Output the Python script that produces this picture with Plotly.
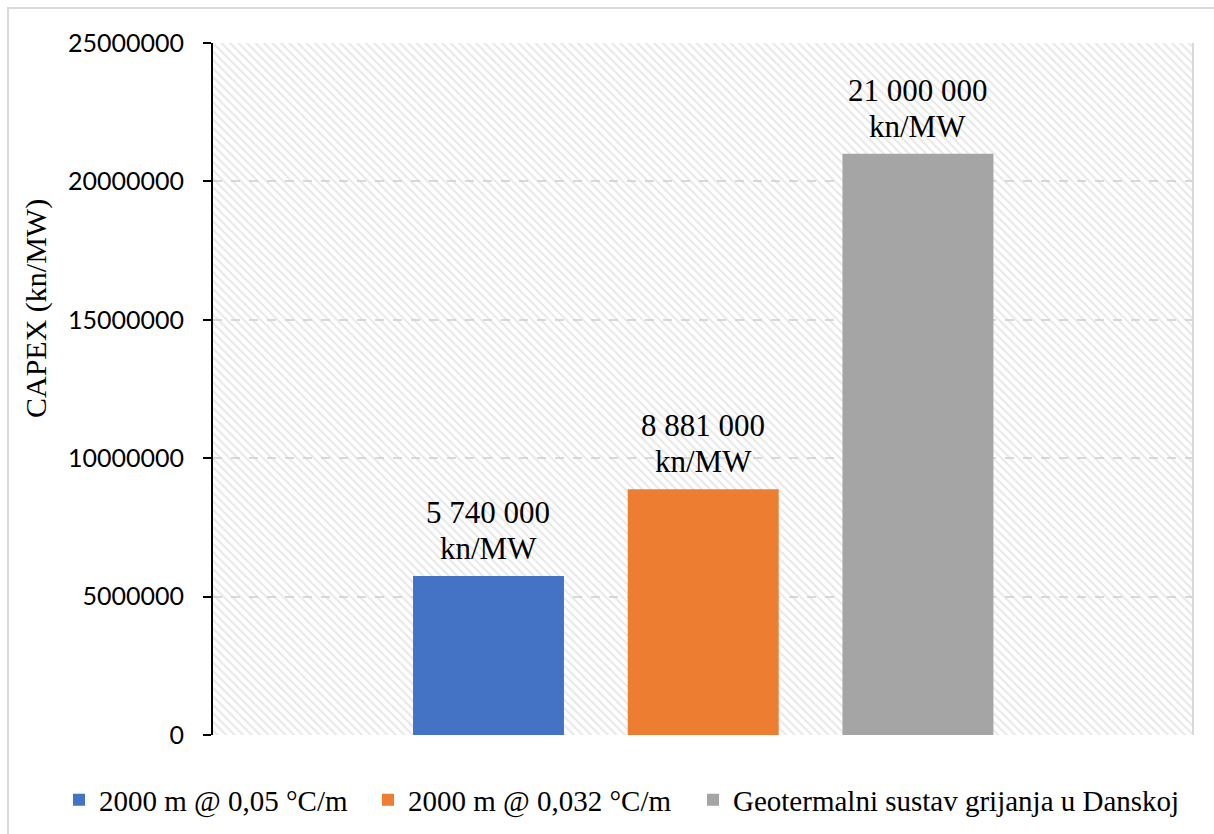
import plotly.graph_objects as go

# Series (one bar per configuration)
series_names = [
    "2000 m @ 0,05 °C/m",
    "2000 m @ 0,032 °C/m",
    "Geotermalni sustav grijanja u Danskoj",
]
capex_values = [5740000, 8881000, 21000000]
bar_colors = ["#4472C4", "#ED7D31", "#A5A5A5"]
unit_label = "kn/MW"
axis_title = "CAPEX (kn/MW)"

y_ticks = [0, 5000000, 10000000, 15000000, 20000000, 25000000]

SERIF = "Liberation Serif, Times New Roman, serif"
SANS = "Lato, Open Sans, sans-serif"
GRID = "#d9d9d9"


def fmt_spaces(v):
    return f"{v:,}".replace(",", " ")


W, H = 1214, 834
ML, MR, MT, MB = 213, 21, 43, 99
pw, ph = W - ML - MR, H - MT - MB


def px_x(x):
    return (x - ML) / pw


def px_y(y):
    return (MT + ph - y) / ph


fig = go.Figure()

# Hatched plot-area background on the hidden base axes (unit square)
fig.add_trace(go.Scatter(
    x=[0, 1, 1, 0, 0], y=[0, 0, 1, 1, 0],
    xaxis="x", yaxis="y",
    mode="lines", line=dict(width=0, color="rgba(0,0,0,0)"),
    fill="toself", fillcolor="rgba(0,0,0,0)",
    fillpattern=dict(shape="\\", fgcolor="#cfcfcf", bgcolor="rgba(0,0,0,0)",
                     size=6, solidity=0.33),
    hoverinfo="skip", showlegend=False,
))

# The bars, drawn on the overlaying axes so they sit above the hatch.
# Each series gets its own legend box so the entries can be spaced freely.
legend_ids = ["legend", "legend2", "legend3"]
for name, val, col, lg in zip(series_names, capex_values, bar_colors, legend_ids):
    fig.add_trace(go.Bar(
        x=[name], y=[val], name=name,
        marker=dict(color=col, line=dict(width=0)),
        xaxis="x2", yaxis="y2", legend=lg,
    ))

# Value labels above each bar (number line and unit line)
annotations = []
for name, val in zip(series_names, capex_values):
    annotations.append(dict(
        x=name, y=val, xref="x2", yref="y2",
        text=fmt_spaces(val), showarrow=False,
        yanchor="bottom", yshift=44,
        font=dict(family=SERIF, size=31, color="#000000"),
    ))
    annotations.append(dict(
        x=name, y=val, xref="x2", yref="y2",
        text=unit_label, showarrow=False,
        yanchor="bottom", yshift=8,
        font=dict(family=SERIF, size=31, color="#000000"),
    ))

# Y-axis title
annotations.append(dict(
    xref="paper", yref="paper", x=px_x(36), y=px_y(309),
    text=axis_title, textangle=-90, showarrow=False,
    xanchor="center", yanchor="middle",
    font=dict(family=SERIF, size=30, color="#000000"),
))

shapes = [
    # right edge of the plot area
    dict(type="line", xref="paper", yref="paper", x0=1, x1=1, y0=0, y1=1,
         line=dict(color=GRID, width=2)),
    # outer chart frame
    dict(type="rect", xref="paper", yref="paper",
         x0=px_x(8), x1=px_x(W + 10), y0=px_y(H + 10), y1=px_y(8),
         line=dict(color=GRID, width=2), fillcolor="rgba(0,0,0,0)", layer="below"),
]

legend_font = dict(family=SERIF, size=29, color="#000000")
legend_left = [59, 368, 693]
legend_layouts = {}
for lg, left in zip(legend_ids, legend_left):
    legend_layouts[lg] = dict(
        orientation="h", x=px_x(left), xanchor="left",
        y=px_y(800), yanchor="middle",
        font=legend_font, bgcolor="rgba(0,0,0,0)",
    )

fig.update_layout(
    width=W, height=H,
    margin=dict(l=ML, r=MR, t=MT, b=MB, autoexpand=False),
    paper_bgcolor="white", plot_bgcolor="white",
    barmode="overlay", bargap=0.297,
    showlegend=True,
    xaxis=dict(range=[0, 1], visible=False, fixedrange=True),
    yaxis=dict(range=[0, 1], visible=False, fixedrange=True),
    xaxis2=dict(
        overlaying="x", anchor="y2", type="category",
        range=[-1.283, 3.281],
        showticklabels=False, showgrid=False, showline=False, ticks="",
        zeroline=False,
    ),
    yaxis2=dict(
        overlaying="y", anchor="x2", side="left",
        range=[0, 25000000], tickvals=y_ticks, tickformat="d",
        showgrid=True, gridcolor=GRID, gridwidth=1.5, griddash="dash",
        zeroline=False, automargin=False,
        showline=True, linecolor="#000000", linewidth=2,
        ticks="outside", ticklen=8, tickwidth=2, tickcolor="#000000",
        ticklabelstandoff=14,
        tickfont=dict(family=SANS, size=25, color="#000000"),
    ),
    annotations=annotations,
    shapes=shapes,
    **legend_layouts,
)

fig.write_html("out.html")
